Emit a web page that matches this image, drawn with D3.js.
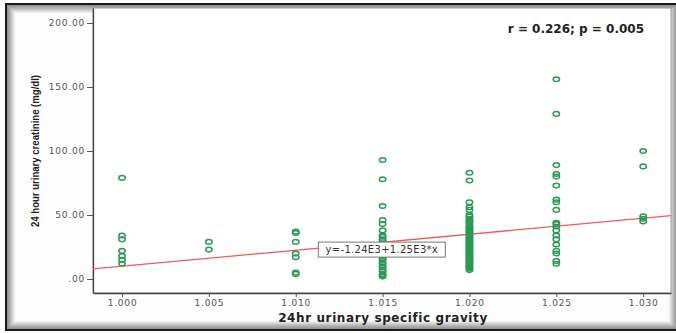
<!DOCTYPE html>
<html>
<head>
<meta charset="utf-8">
<script src="https://cdn.jsdelivr.net/npm/d3@7"></script>
<style>
  body { margin: 0; background: #fff; }
  svg { display: block; }
</style>
</head>
<body>
<div class="sg-holder"></div>
<script>
// specific gravity groups and creatinine readings (mg/dl)
var gravity = [1.000, 1.005, 1.010, 1.015, 1.020, 1.025, 1.030];
var creat1000 = [79, 34, 31, 22, 18, 15, 12];
var creat1005 = [29, 23];
var creat1010 = [37, 36, 29, 20, 17, 5, 4];
var creat1015 = [93, 78, 57, 46, 43, 38, 34, 33, 31, 30, 28, 27, 25, 24, 22, 21, 19, 18, 16, 15, 13, 12, 10, 9, 7, 6, 4, 3, 2];
var creat1020 = [83, 77, 60, 56, 54, 50, 49, 47, 46, 45, 44, 42, 41, 40, 39, 38, 37, 36, 35, 34, 33, 32, 31, 30, 29, 28, 27, 26, 25, 24, 23, 22, 21, 20, 19, 18, 17, 16, 15, 14, 13, 12, 11, 10, 9, 8, 7];
var creat1025 = [156, 129, 89, 82, 80, 73, 62, 60, 54, 44, 43, 41, 38, 34, 31, 27, 22, 20, 14, 12];
var creat1030 = [100, 88, 49, 47, 45];
var yTicks = [0, 50, 100, 150, 200];
var fitIntercept = -1240, fitSlope = 1250;   // y=-1.24E3+1.25E3*x
var fitLabel = "y=-1.24E3+1.25E3*x";
var statText = "r = 0.226; p = 0.005";

var groups = [creat1000, creat1005, creat1010, creat1015, creat1020, creat1025, creat1030];
var points = [];
groups.forEach(function(g, i){
  g.forEach(function(v){ points.push({x: gravity[i], y: v}); });
});

var W = 676, H = 333;
var margin = {top: 8, right: 5, bottom: 40, left: 93};
var width = W - margin.left - margin.right;   // plot box 93..671
var height = H - margin.top - margin.bottom;  // plot box 8..293

var scaleX = d3.scaleLinear().domain([0.99833, 1.0316]).range([0, width]);
var scaleY = d3.scaleLinear().domain([-10.9, 211.7]).range([height, 0]);

var svg = d3.select(".sg-holder").append("svg")
    .attr("width", W).attr("height", H);

/* outer frame with soft inner shadow */
svg.append("rect").attr("x", 5).attr("y", 3).attr("width", 674).attr("height", 328)
    .attr("fill", "#fdfdfd");
for (var k = 10; k >= 1; k--) {
  svg.append("rect")
    .attr("x", 5 + k).attr("y", 3 + k)
    .attr("width", 674 - 2*k).attr("height", 328 - 2*k)
    .attr("fill", "none")
    .attr("stroke", "#000")
    .attr("stroke-opacity", 0.02 + (10 - k) * 0.05)
    .attr("stroke-width", 1.2);
}
svg.append("rect").attr("x", 6).attr("y", 4).attr("width", 674).attr("height", 326)
    .attr("fill", "none").attr("stroke", "#1a1a1a").attr("stroke-width", 2);

/* Shifting the chart to exclude the margins*/
var grp = svg.append("g").attr("transform", `translate(${margin.left}, ${margin.top})`);

grp.append("rect").attr("width", width).attr("height", height)
    .attr("fill", "#fff").attr("stroke", "#9a9a9a").attr("stroke-width", 1);

var tickFmt = function(d){ return d === 0 ? ".00" : d3.format(".2f")(d); };

var yAx = grp.append("g").call(d3.axisLeft(scaleY).tickValues(yTicks).tickFormat(tickFmt)
    .tickSize(6).tickSizeOuter(0).tickPadding(2));
var xAx = grp.append("g").attr("transform", `translate(0, ${height})`)
    .call(d3.axisBottom(scaleX).tickValues(gravity).tickFormat(d3.format(".3f"))
    .tickSize(4).tickSizeOuter(0).tickPadding(3));

[yAx, xAx].forEach(function(a){
  a.select(".domain").attr("stroke", "#444").attr("stroke-width", 1.3);
  a.selectAll(".tick line").attr("stroke", "#555");
  a.selectAll(".tick text").attr("fill", "#555")
    .style("font-family", "DejaVu Sans").style("font-size", "9px")
    .style("letter-spacing", "0.8px");
});

/* regression line across the whole x range */
var dom = scaleX.domain();
grp.append("line")
    .attr("x1", scaleX(dom[0])).attr("y1", scaleY(fitIntercept + fitSlope*dom[0]))
    .attr("x2", scaleX(dom[1])).attr("y2", scaleY(fitIntercept + fitSlope*dom[1]))
    .attr("stroke", "#f25a5a").attr("stroke-width", 1.3);

/* points */
grp.selectAll("ellipse.dot")
    .data(points)
    .enter().append("ellipse")
    .attr("class", "dot")
    .attr("cx", function(d){ return scaleX(d.x); })
    .attr("cy", function(d){ return scaleY(d.y); })
    .attr("rx", 3.2).attr("ry", 2.3)
    .attr("fill", "none")
    .attr("stroke", "#2a9a55")
    .attr("stroke-width", 1.5);

/* fit equation label */
var lx = scaleX(1.0113), ly = scaleY(23);
var lab = grp.append("g").attr("transform", `translate(${lx}, ${ly})`);
lab.append("rect").attr("x", 0).attr("y", -7.5).attr("width", 127).attr("height", 15)
    .attr("fill", "#fff").attr("stroke", "#777").attr("stroke-width", 1);
lab.append("text").attr("x", 63.5).attr("y", 3.5)
    .attr("text-anchor", "middle")
    .style("font-family", "DejaVu Sans").style("font-size", "10px").attr("fill", "#333")
    .style("letter-spacing", "0.3px")
    .text(fitLabel);

/* r / p annotation */
svg.append("text")
    .attr("x", 644).attr("y", 33)
    .attr("text-anchor", "end")
    .style("font-family", "DejaVu Sans").style("font-weight", "bold").style("font-size", "12px")
    .attr("fill", "#222")
    .text(statText);

/* Y-axis label */
svg.append("text")
    .attr("transform", "rotate(270)")
    .attr("x", -151).attr("y", 39)
    .attr("text-anchor", "middle")
    .attr("textLength", 152).attr("lengthAdjust", "spacingAndGlyphs")
    .style("font-family", "Liberation Sans").style("font-weight", "bold").style("font-size", "11.5px")
    .attr("fill", "#222")
    .text("24 hour urinary creatinine (mg/dl)");

/* X-axis label */
svg.append("text")
    .attr("x", 383).attr("y", 322)
    .attr("text-anchor", "middle")
    .style("font-family", "DejaVu Sans").style("font-weight", "bold").style("font-size", "12px")
    .style("letter-spacing", "0.6px")
    .attr("fill", "#222")
    .text("24hr urinary specific gravity");
</script>
</body>
</html>
